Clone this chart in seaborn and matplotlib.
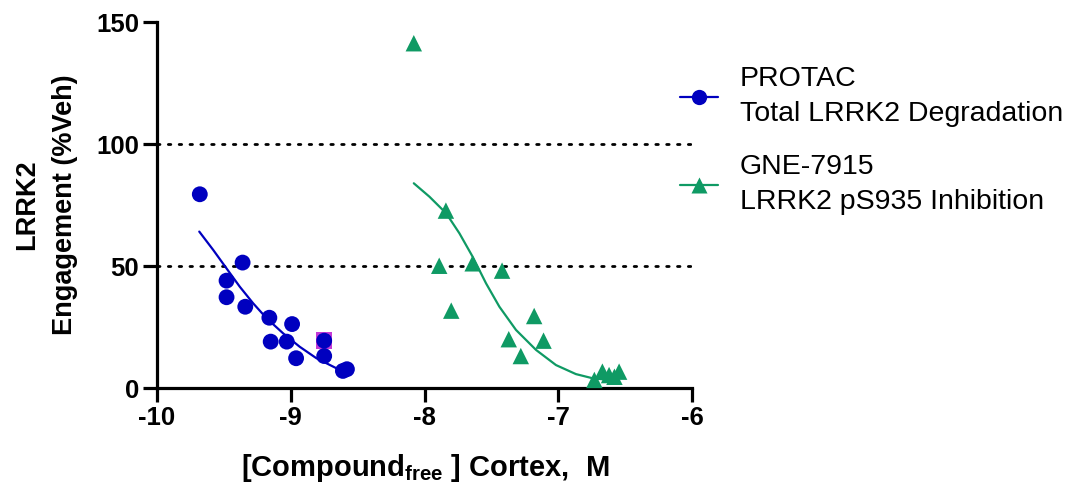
import numpy as np
import pandas as pd
import seaborn as sns
import matplotlib.pyplot as plt
from matplotlib.lines import Line2D

# PROTAC total LRRK2 degradation (log M free cortex conc vs %Veh)
protac_logc = [-9.68, -9.36, -9.48, -9.48, -9.34, -9.16, -8.99, -9.15, -9.03,
               -8.96, -8.75, -8.75, -8.61, -8.58]
protac_pct = [79.4, 51.4, 44.0, 37.2, 33.3, 28.8, 26.2, 19.0, 19.0,
              12.2, 19.4, 13.1, 7.0, 7.7]
# single square point sitting behind one PROTAC circle
square_logc = [-8.75]
square_pct = [19.4]

# GNE-7915 LRRK2 pS935 inhibition
gne_logc = [-8.08, -7.84, -7.89, -7.64, -7.42, -7.80, -7.18, -7.37, -7.11,
            -7.28, -6.73, -6.67, -6.62, -6.58, -6.545]
gne_pct = [141.3, 72.7, 50.1, 51.1, 48.1, 31.7, 29.5, 20.0, 19.4,
           13.1, 3.3, 6.7, 5.3, 4.6, 6.7]

# fitted curves
protac_fit_x = [-9.684, -9.58, -9.48, -9.381, -9.281, -9.181, -9.057, -8.933,
                -8.808, -8.659, -8.60]
protac_fit_y = [64.1, 56.6, 49.0, 41.5, 34.7, 28.6, 22.4, 16.9, 12.2, 8.1, 7.0]
gne_fit_x = [-8.08, -7.963, -7.838, -7.739, -7.64, -7.54, -7.44, -7.316,
             -7.166, -7.017, -6.868, -6.744, -6.60]
gne_fit_y = [83.9, 78.4, 71.6, 63.4, 53.8, 42.9, 33.3, 23.8, 15.6, 9.4,
             5.7, 4.0, 3.2]

ref_lines = [50, 100]
x_ticks = [-10, -9, -8, -7, -6]
y_ticks = [0, 50, 100, 150]

BLUE = "#0000bf"
GREEN = "#0f9a64"
MAGENTA = "#c43ad6"

sns.set_theme(style="ticks")
plt.rcParams["font.family"] = ["Liberation Sans", "DejaVu Sans"]
plt.rcParams["mathtext.fontset"] = "custom"
plt.rcParams["mathtext.rm"] = "Liberation Sans"
plt.rcParams["mathtext.bf"] = "Liberation Sans:bold"
plt.rcParams["text.color"] = "black"
plt.rcParams["xtick.color"] = "black"
plt.rcParams["ytick.color"] = "black"
plt.rcParams["xtick.labelcolor"] = "black"
plt.rcParams["ytick.labelcolor"] = "black"

fig = plt.figure(figsize=(10.79, 4.87), dpi=100)
ax = fig.add_axes([157 / 1079, 1 - 388 / 487, 535 / 1079, 366 / 487])

for yv in ref_lines:
    ax.axhline(yv, color="black", lw=2.0, ls=(0, (0.9, 3.0)),
               dash_capstyle="round", zorder=1)

protac_fit = pd.DataFrame({"x": protac_fit_x, "y": protac_fit_y})
gne_fit = pd.DataFrame({"x": gne_fit_x, "y": gne_fit_y})
sns.lineplot(data=protac_fit, x="x", y="y", color=BLUE, lw=1.6,
             sort=False, estimator=None, ax=ax, zorder=2)
sns.lineplot(data=gne_fit, x="x", y="y", color=GREEN, lw=1.6,
             sort=False, estimator=None, ax=ax, zorder=2)

sq = pd.DataFrame({"x": square_logc, "y": square_pct})
sns.scatterplot(data=sq, x="x", y="y", marker="s", s=140, color=MAGENTA,
                edgecolor="none", ax=ax, zorder=3, clip_on=False)

protac = pd.DataFrame({"x": protac_logc, "y": protac_pct})
gne = pd.DataFrame({"x": gne_logc, "y": gne_pct})
sns.scatterplot(data=protac, x="x", y="y", marker="o", s=130, color=BLUE,
                edgecolor="none", ax=ax, zorder=4, clip_on=False)
sns.scatterplot(data=gne, x="x", y="y", marker="^", s=140, color=GREEN,
                edgecolor="none", ax=ax, zorder=4, clip_on=False)

ax.set_xlim(-10, -6)
ax.set_ylim(0, 150)
ax.set_xticks(x_ticks)
ax.set_yticks(y_ticks)
ax.set_xticklabels([str(t) for t in x_ticks])
ax.set_xlabel("")
ax.set_ylabel("")
for side in ["top", "right"]:
    ax.spines[side].set_visible(False)
for side in ["left", "bottom"]:
    ax.spines[side].set_linewidth(2.3)
    ax.spines[side].set_color("black")
ax.tick_params(axis="both", direction="out", length=10, width=2.3,
               color="black", labelsize=18.5, pad=3)
for lbl in ax.get_xticklabels() + ax.get_yticklabels():
    lbl.set_fontweight("bold")

fig.text(46 / 1079, 1 - 205 / 487, "LRRK2\nEngagement (%Veh)", rotation=90,
         ha="center", va="center", multialignment="center",
         fontsize=19.5, fontweight="bold", linespacing=1.55)
fig.text(425 / 1079, 1 - 468 / 487,
         r"[Compound$_{\mathbf{free}}$ ] Cortex,  M",
         ha="center", va="center", fontsize=21, fontweight="bold")

handles = [
    Line2D([], [], color=BLUE, lw=1.6, marker="o", markersize=11,
           markeredgecolor="none"),
    Line2D([], [], color=GREEN, lw=1.6, marker="^", markersize=11.5,
           markeredgecolor="none"),
]
labels = ["PROTAC\nTotal LRRK2 Degradation",
          "GNE-7915\nLRRK2 pS935 Inhibition"]
leg = fig.legend(handles, labels, loc="upper left",
                 bbox_to_anchor=(680 / 1079, 1 - 66 / 487), frameon=False,
                 fontsize=20.5, handlelength=1.35, handletextpad=0.75,
                 labelspacing=0.95, borderaxespad=0, borderpad=0)
for t in leg.get_texts():
    t.set_linespacing(1.45)

plt.savefig("out.png", dpi=100)
